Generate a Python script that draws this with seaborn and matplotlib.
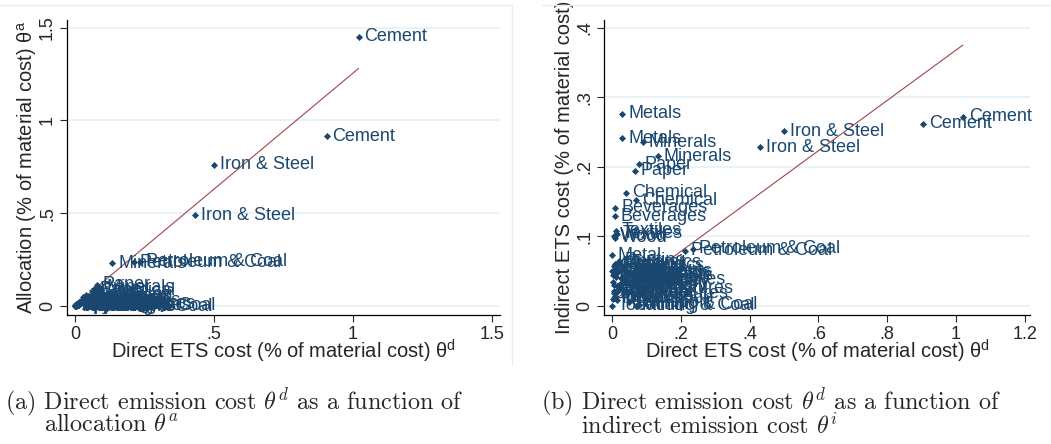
import pandas as pd
import seaborn as sns
import matplotlib.pyplot as plt
from matplotlib.lines import Line2D


sectors = ['Cement', 'Iron & Steel', 'Metals', 'Minerals', 'Paper', 'Chemical',
           'Beverages', 'Textiles', 'Wood', 'Petroleum & Coal', 'Metal', 'Vehicles',
           'Manufactures', 'Mining & Coal', 'Food', 'Tobacco', 'Apparel', 'Leather',
           'Printing', 'Plastics', 'Machinery', 'Electrical', 'Furniture', 'Transport',
           'Glass', 'Ceramics', 'Electronics', 'Instruments', 'Sugar', 'Dairy',
           'Footwear', 'Toys']

direct_1 = [1.02, 0.50, 0.03, 0.09, 0.078, 0.041, 0.010, 0.012, 0.008, 0.212, 0.000, 0.030,
            0.005, 0.070, 0.020, 0.000, 0.003, 0.010, 0.015, 0.040, 0.020, 0.030, 0.015, 0.060,
            0.005, 0.020, 0.010, 0.000, 0.025, 0.015, 0.005, 0.010]
alloc_1 = [1.45, 0.76, 0.05, 0.10, 0.115, 0.060, 0.010, 0.015, 0.012, 0.235, 0.005, 0.040,
           0.005, 0.000, 0.020, 0.000, 0.002, 0.008, 0.012, 0.030, 0.015, 0.020, 0.010, 0.050,
           0.003, 0.025, 0.008, 0.000, 0.030, 0.020, 0.002, 0.005]
indirect_1 = [0.272, 0.251, 0.276, 0.235, 0.204, 0.163, 0.141, 0.108, 0.098, 0.079, 0.073, 0.040,
              0.018, 0.000, 0.050, 0.000, 0.035, 0.045, 0.060, 0.050, 0.030, 0.040, 0.020, 0.010,
              0.058, 0.062, 0.045, 0.050, 0.040, 0.028, 0.022, 0.012]

direct_2 = [0.905, 0.43, 0.03, 0.134, 0.067, 0.070, 0.009, 0.015, 0.005, 0.235, 0.010, 0.120,
            0.020, 0.080, 0.015, 0.002, 0.006, 0.012, 0.020, 0.050, 0.025, 0.035, 0.010, 0.050,
            0.008, 0.030, 0.012, 0.004, 0.035, 0.020, 0.008, 0.015]
alloc_2 = [0.915, 0.49, 0.04, 0.23, 0.090, 0.085, 0.008, 0.020, 0.010, 0.240, 0.010, 0.030,
           0.015, 0.005, 0.018, 0.000, 0.004, 0.010, 0.015, 0.035, 0.020, 0.025, 0.008, 0.040,
           0.005, 0.030, 0.010, 0.002, 0.035, 0.022, 0.004, 0.008]
indirect_2 = [0.262, 0.228, 0.241, 0.215, 0.194, 0.152, 0.129, 0.104, 0.101, 0.082, 0.060, 0.038,
              0.025, 0.002, 0.055, 0.010, 0.030, 0.042, 0.065, 0.047, 0.033, 0.036, 0.015, 0.005,
              0.052, 0.058, 0.048, 0.044, 0.036, 0.024, 0.020, 0.008]

# fitted lines
fit_x = [0.0, 1.02]
fit_alloc = [0.005, 1.28]
fit_indirect = [0.006, 0.375]

left_xticks = [0, 0.5, 1, 1.5]
left_xticklabels = ['0', '.5', '1', '1.5']
left_yticks = [0, 0.5, 1, 1.5]
left_yticklabels = ['0', '.5', '1', '1.5']
right_xticks = [0, 0.2, 0.4, 0.6, 0.8, 1.0, 1.2]
right_xticklabels = ['0', '.2', '.4', '.6', '.8', '1', '1.2']
right_yticks = [0, 0.1, 0.2, 0.3, 0.4]
right_yticklabels = ['0', '.1', '.2', '.3', '.4']

df = pd.concat([
    pd.DataFrame({'sector': sectors, 'direct': direct_1, 'alloc': alloc_1, 'indirect': indirect_1}),
    pd.DataFrame({'sector': sectors, 'direct': direct_2, 'alloc': alloc_2, 'indirect': indirect_2}),
], ignore_index=True)

sns.set_style('ticks')
plt.rcParams['font.family'] = ['Liberation Sans', 'DejaVu Sans']

navy = '#1a476f'
maroon = '#a0454b'
gridc = '#e6eff1'

fig = plt.figure(figsize=(10.51, 4.44), dpi=100)
ax1 = fig.add_axes([67 / 1051, 1 - 315 / 444, 433 / 1051, 295 / 444])
ax2 = fig.add_axes([604 / 1051, 1 - 315 / 444, 426 / 1051, 295 / 444])


def draw(ax, ycol, fit_y, xlim, ylim, xt, xtl, yt, ytl, xlab, ylab, ylab_x):
    ax.set_axisbelow(True)
    ax.yaxis.grid(True, color=gridc, lw=1.1)
    sns.lineplot(x=fit_x, y=fit_y, ax=ax, color=maroon, lw=0.8)
    sns.scatterplot(data=df, x='direct', y=ycol, ax=ax, marker='D', s=13,
                    color=navy, linewidth=0, zorder=3)
    for _, r in df.iterrows():
        ax.annotate(r['sector'], (r['direct'], r[ycol]), xytext=(4.3, 0),
                    textcoords='offset points', va='center', ha='left',
                    fontsize=13, color=navy)
    ax.set_xlim(*xlim)
    ax.set_ylim(*ylim)
    ax.set_xticks(xt)
    ax.set_xticklabels(xtl)
    ax.set_yticks(yt)
    ax.set_yticklabels(ytl, rotation=90, va='center')
    ax.tick_params(direction='out', length=5, width=0.8, labelsize=13, pad=3,
                   left=True, bottom=True)
    for s in ['left', 'bottom']:
        ax.spines[s].set_color('black')
        ax.spines[s].set_linewidth(0.9)
    sns.despine(ax=ax)
    ax.set_xlabel(xlab, fontsize=14.5)
    ax.set_ylabel(ylab, fontsize=14.5)
    ax.xaxis.set_label_coords(0.5, -0.078)
    ax.yaxis.set_label_coords(ylab_x, 0.5)


draw(ax1, 'alloc', fit_alloc, (-0.029, 1.529), (-0.048, 1.541),
     left_xticks, left_xticklabels, left_yticks, left_yticklabels,
     r'Direct ETS cost (% of material cost) $\mathregular{\theta^d}$',
     r'Allocation (% of material cost) $\mathregular{\theta^a}$', -0.065)
draw(ax2, 'indirect', fit_indirect, (-0.023, 1.215), (-0.013, 0.411),
     right_xticks, right_xticklabels, right_yticks, right_yticklabels,
     r'Direct ETS cost (% of material cost) $\mathregular{\theta^d}$',
     'Indirect ETS cost (% of material cost)', -0.07)

# faint graph-region borders
for (x0, y0, x1, y1) in [(0, 5, 512, 5), (512, 5, 512, 365), (542, 5, 1051, 5)]:
    fig.add_artist(Line2D([x0 / 1051, x1 / 1051], [1 - y0 / 444, 1 - y1 / 444],
                          color='#e8eef0', lw=1))

# captions
cap = dict(family='cmr10', math_fontfamily='cm', fontsize=17.4, va='top', ha='left')
fig.text(5 / 1051, 1 - 386 / 444, r'(a) Direct emission cost $\theta^d$ as a function of', **cap)
fig.text(44 / 1051, 1 - 414 / 444, r'allocation $\theta^a$', **cap)
fig.text(541 / 1051, 1 - 386 / 444, r'(b) Direct emission cost $\theta^d$ as a function of', **cap)
fig.text(581 / 1051, 1 - 414 / 444, r'indirect emission cost $\theta^i$', **cap)

fig.savefig('out.png', dpi=100)
